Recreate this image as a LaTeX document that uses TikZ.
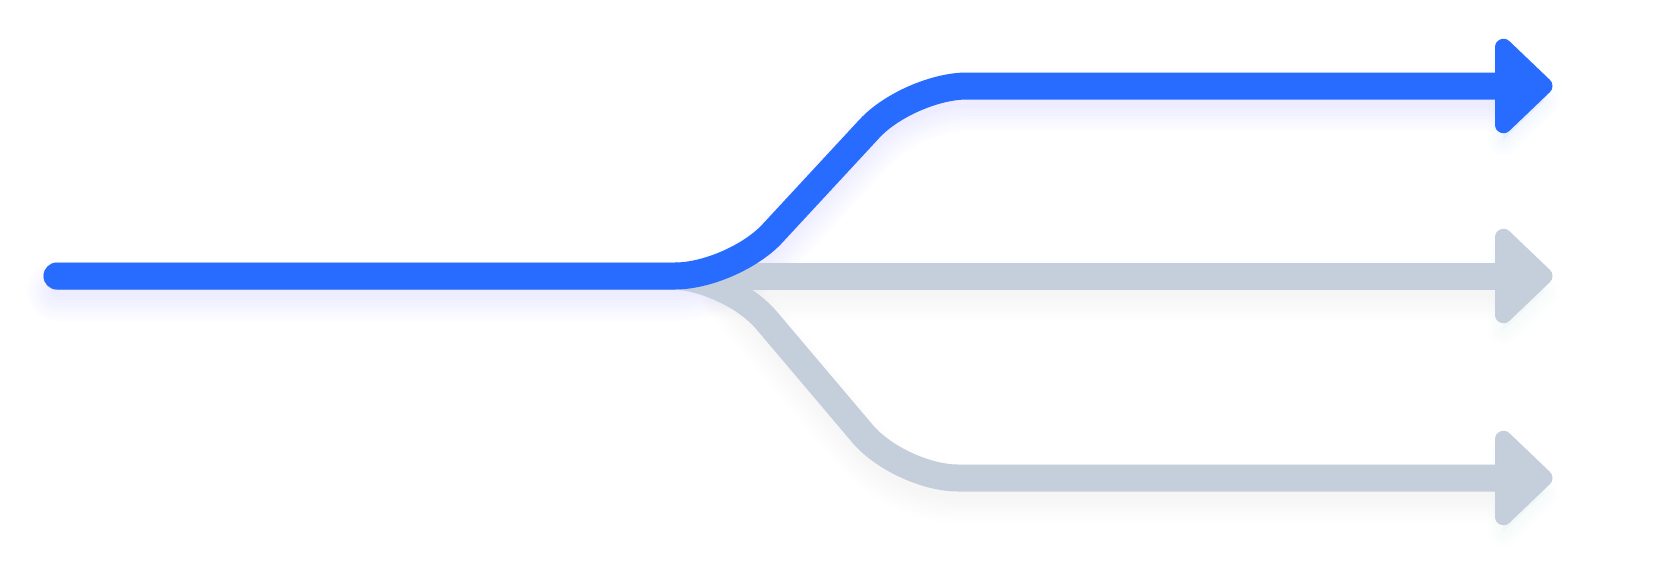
\documentclass[tikz,border=0pt]{standalone}
\definecolor{flowblue}{RGB}{39,108,255}
\definecolor{flowgray}{RGB}{197,206,219}
\definecolor{shadowgray}{RGB}{160,170,190}
\begin{document}
\begin{tikzpicture}[x=1pt,y=-1pt,
  route/.style={line width=27pt, line cap=round, rounded corners=58pt},
  glow/.style={line width=#1, line cap=round, rounded corners=58pt},
  headshape/.style={line width=17pt, line join=round},
]
\fill[white] (0,0) rectangle (1672,573);
\useasboundingbox (0,0) rectangle (1672,573);
\coordinate (src) at (57,276);
\coordinate (fork) at (733,276);
\coordinate (forkB) at (729,276);
\coordinate (bendT) at (909,86);
\coordinate (endT) at (1496,86);
\coordinate (endM) at (1496,276);
\coordinate (bendB) at (900,478);
\coordinate (endB) at (1496,478);
% soft shadows
\begin{scope}[transform canvas={yshift=-15pt}]
  \foreach \w in {12pt,18pt,24pt,30pt,36pt,42pt,48pt,54pt,60pt}{
    \draw[glow=\w, shadowgray, draw opacity=0.005] (forkB) -- (endM);
    \draw[glow=\w, shadowgray, draw opacity=0.005] (forkB) -- (bendB) -- (endB);
    \draw[glow=\w, flowblue, draw opacity=0.008] (src) -- (fork) -- (bendT) -- (endT);
  }
  \foreach \lw in {6pt,14pt,22pt,30pt}{
    \filldraw[shadowgray, opacity=0.01, line width=\lw, line join=round, shift={(endM)}] (7.5,-38.7) -- (48,0) -- (7.5,38.7) -- cycle;
    \filldraw[shadowgray, opacity=0.01, line width=\lw, line join=round, shift={(endB)}] (7.5,-38.7) -- (48,0) -- (7.5,38.7) -- cycle;
    \filldraw[flowblue, opacity=0.01, line width=\lw, line join=round, shift={(endT)}] (7.5,-38.7) -- (48,0) -- (7.5,38.7) -- cycle;
  }
\end{scope}
% gray branches
\draw[route, flowgray] (src) -- (endM);
\filldraw[flowgray, headshape, shift={(endM)}] (7.5,-38.7) -- (48,0) -- (7.5,38.7) -- cycle;
\draw[route, flowgray] (src) -- (forkB) -- (bendB) -- (endB);
\filldraw[flowgray, headshape, shift={(endB)}] (7.5,-38.7) -- (48,0) -- (7.5,38.7) -- cycle;
% blue active branch
\draw[route, flowblue] (src) -- (fork) -- (bendT) -- (endT);
\filldraw[flowblue, headshape, shift={(endT)}] (7.5,-38.7) -- (48,0) -- (7.5,38.7) -- cycle;
\end{tikzpicture}
\end{document}
